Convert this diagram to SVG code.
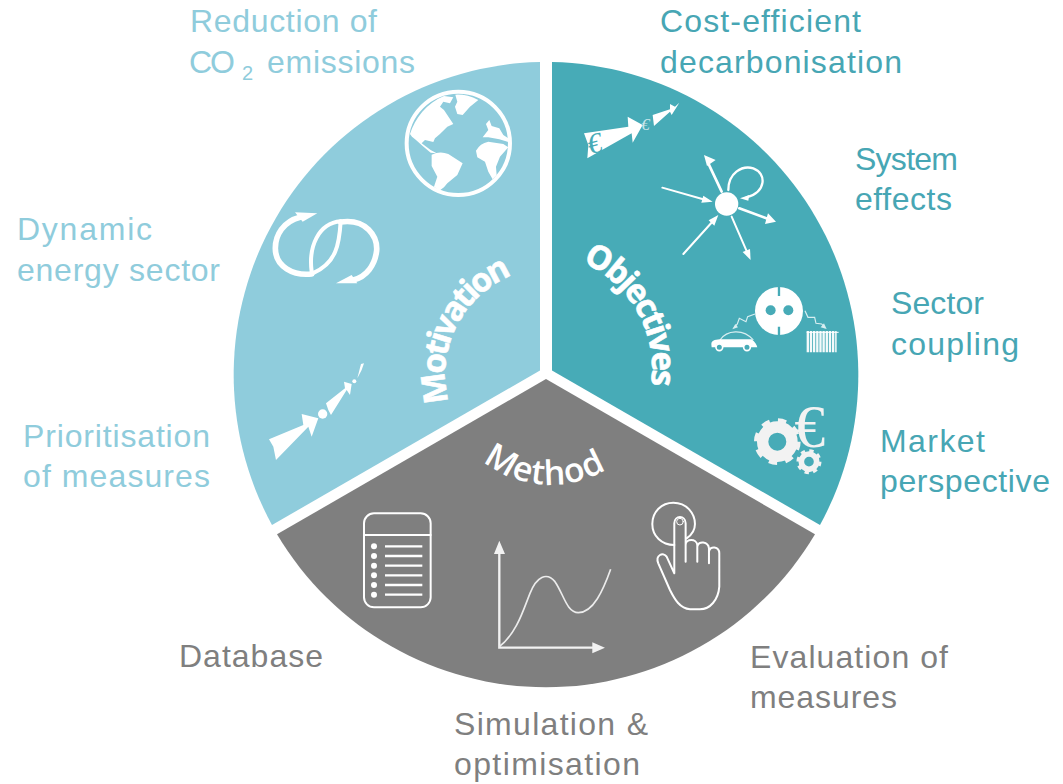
<svg xmlns="http://www.w3.org/2000/svg" width="1063" height="784" viewBox="0 0 1063 784">
<style>
.l{font-family:"Liberation Sans",Arial,sans-serif;font-size:32px}
.lb{fill:#8fccdc}.tl{fill:#47a6b4}.gr{fill:#7f7f7f}
.h{font-family:"Open Sans","Noto Sans",sans-serif;font-weight:700;fill:#fff;stroke:#fff;stroke-width:.6px;font-size:33px}
.w{fill:#fff;stroke:none}
.s{fill:none;stroke:#fff;stroke-linecap:round;stroke-linejoin:round}
.g{fill:none;stroke:#f2f2f2}
</style>
<defs>
<path id="pM" d="M449 402A106 106 0 0 1 550 268"/>
<path id="pO" d="M582 262A116 116 0 0 1 640 420"/>
<path id="pH" d="M483 461A108 108 0 0 0 630 450"/>
</defs>
<g id="segments">
<path id="motivation-slice" fill="#8fccdc" d="M540 62A313 313 0 0 0 272 525L540 370.500Z"/>
<path id="objectives-slice" fill="#47abb7" d="M552 62A313 313 0 0 1 820 525L552 370.500Z"/>
<path id="method-slice" fill="#7f7f7f" d="M546 379L277 534.300A313 313 0 0 0 815 534.300Z"/>
</g>
<g id="heads">
<text class="h" style="letter-spacing:-2.9px"><textPath href="#pM">Motivation</textPath></text>
<text class="h" style="letter-spacing:-2.300px"><textPath href="#pO">Objectives</textPath></text>
<text class="h" style="font-weight:600;stroke-width:0;font-size:34px;letter-spacing:.7px"><textPath href="#pH">Method</textPath></text>
</g>
<g id="icon-globe" transform="translate(240 60) scale(.3333)">
<circle class="s" cx="655" cy="250" r="155" stroke-width="12"/>
<path class="w" d="M510 222C525 175 560 130 612 108L640 112L630 130L610 125L600 140L612 150L640 192L622 200L600 222L585 235L580 246L555 240L545 250L572 270L590 280L572 278L548 258L528 240L516 230Z"/>
<path class="w" d="M646 104Q680 102 715 120L690 140L668 165L652 162L645 140L652 125Z"/>
<path class="w" d="M575 284Q600 272 625 282L668 310L652 345L622 370L612 382L598 392L582 380L592 350L575 318Z"/>
<path class="w" d="M708 272Q720 250 745 245L790 252L805 262L780 290L768 320L770 345L758 358L745 335L735 305L712 292Z"/>
<path class="w" d="M728 232L745 210L738 192L748 180L755 198L778 205L790 225L805 235L805 246L778 238L745 232Z"/>
</g>
<g id="icon-cycle" transform="translate(240 60) scale(.3333)">
<path class="s" stroke-width="17" d="M180 472C130 485 106 525 106 565C106 620 160 648 215 642"/>
<path class="s" stroke-width="17" d="M302 486C380 475 413 530 410 572C405 615 380 650 340 660"/>
<path class="s" stroke-width="12" d="M215 635C205 560 235 490 302 484C298 550 290 610 218 640"/>
<path class="w" d="M165 457L232 460L188 485Z"/>
<path class="w" d="M288 670L352 670L335 645Z"/>
</g>
<g id="icon-rocket" transform="translate(250 240) scale(.3333)">
<path class="w" d="M57 598L160 555L155 522L205 535L185 590L175 560L78 660L70 620Z"/>
<circle class="w" cx="218" cy="522" r="14"/>
<path class="w" d="M228 490L285 445L282 425L305 432L300 465L290 450L243 525L235 510Z"/>
<circle class="w" cx="313" cy="424" r="6"/>
<path class="w" d="M333 372L342 370L335 390L322 415Z"/>
</g>
<g id="icon-euro-arrows" transform="translate(560 80) scale(.3333)">
<path class="w" d="M72 160L205 140L203 110L248 135L218 188L215 160L82 235L85 195Z"/>
<path class="w" d="M278 105L330 88L330 72L345 80L358 68L335 105L330 95L282 138Z"/>
<text x="82" y="217" font-family="Liberation Serif,serif" font-style="italic" font-size="86" fill="#47abb7" transform="rotate(-15 110 190)">€</text>
<text x="244" y="150" font-family="Liberation Serif,serif" font-style="italic" font-size="50" fill="#c7e6ea">€</text>
</g>
<g id="icon-system" transform="translate(560 80) scale(.3333)">
<circle class="w" cx="500" cy="372" r="35"/>
<g class="s" stroke-width="6">
<path d="M307 323L440 361"/><path d="M485 335L445 250" stroke-width="8"/><path d="M538 385L625 417" stroke-width="8"/><path d="M515 410L563 520"/><path d="M370 522L462 420"/>
<path stroke-width="7" d="M505 330C505 280 545 255 580 265C620 280 620 335 560 352"/>
</g>
<path class="w" d="M458 365L424 368L430 347Z"/><path class="w" d="M432 225L467 240L441 258Z"/><path class="w" d="M648 425L615 432L624 400Z"/><path class="w" d="M572 540L548 516L570 507Z"/><path class="w" d="M475 405L463 437L446 421Z"/><path class="w" d="M540 355L568 345L565 362Z"/>
</g>
<g id="icon-coupling" transform="translate(580 240) scale(.3333)">
<circle class="w" cx="597" cy="213" r="72"/>
<path stroke="#47abb7" stroke-width="7" d="M597 140V168M597 260V287"/>
<circle cx="572" cy="211" r="15" fill="#47abb7"/><circle cx="625" cy="211" r="15" fill="#47abb7"/>
<path fill="none" stroke="#d8eef1" stroke-width="3.500" d="M525 222L503 230L498 245L478 235L472 252L462 264"/>
<path fill="none" stroke="#d8eef1" stroke-width="3.500" d="M675 212L684 232L704 232L708 250L725 252L735 264"/>
<path fill="#d8eef1" d="M457 268L466 252L474 262Z"/><path fill="#d8eef1" d="M740 267L722 262L732 250Z"/>
<path fill="none" stroke="#d8eef1" stroke-width="3.500" d="M420 300C440 270 490 265 520 300"/>
<path class="w" d="M394 312C394 300 410 298 425 298L515 298C525 305 530 315 532 322L395 322Z"/>
<circle cx="418" cy="322" r="10" fill="#47abb7" stroke="#fff" stroke-width="5"/><circle cx="501" cy="322" r="10" fill="#47abb7" stroke="#fff" stroke-width="5"/>
<path stroke="#f4fafb" stroke-width="64" stroke-dasharray="7 2.500" d="M680 305H770"/>
<path stroke="#fff" stroke-width="3" d="M680 277H776"/>
</g>
<g id="icon-market" transform="translate(580 240) scale(.3333)">
<circle class="g" cx="592" cy="605" r="44" stroke-width="34"/>
<circle class="g" cx="592" cy="605" r="62" stroke-width="16" stroke-dasharray="24.300 24.400"/>
<circle class="g" cx="687" cy="665" r="23" stroke-width="17"/>
<circle class="g" cx="687" cy="665" r="33" stroke-width="9" stroke-dasharray="13 12.900"/>
<text x="643" y="622" font-family="Liberation Serif,serif" font-size="186" fill="#f2f2f2">€</text>
</g>
<g id="icon-database" transform="translate(340 430) scale(.3333)">
<rect class="s" x="72" y="250" width="200" height="282" rx="30" stroke-width="6"/>
<path class="s" stroke-width="6" d="M72 315H272"/>
<g class="w"><circle cx="102" cy="349" r="9"/><circle cx="102" cy="378" r="9"/><circle cx="102" cy="407" r="9"/><circle cx="102" cy="436" r="9"/><circle cx="102" cy="465" r="9"/><circle cx="102" cy="494" r="9"/></g>
<path stroke="#fff" stroke-width="7" d="M135 349H247M135 378H247M135 407H247M135 436H247M135 465H247M135 494H247"/>
</g>
<g id="icon-chart" transform="translate(340 430) scale(.3333)">
<path fill="none" stroke="#f2f2f2" stroke-width="7" d="M478 360V653H765"/>
<path fill="#f2f2f2" d="M478 332L462 372H495ZM795 653L757 637V670Z"/>
<path fill="none" stroke="#ececec" stroke-width="5" d="M478 650C530 610 550 540 570 490C590 440 620 425 645 455C670 490 680 548 715 548C760 548 790 480 812 418"/>
</g>
<g id="icon-hand" transform="translate(340 430) scale(.3333)">
<path class="s" stroke-width="6" d="M1003 345C965 345 937 318 937 282C937 245 965 218 1000 218C1040 218 1065 250 1065 282C1065 298 1055 315 1040 325"/>
<path class="s" stroke-width="6" d="M1003 430V280C1003 255 1037 255 1037 280V395V345C1037 325 1070 325 1072 345V395V350C1075 330 1105 335 1107 355V400V365C1110 345 1138 350 1138 370V470C1135 510 1110 538 1080 538H1050C1020 535 1005 510 990 480L955 400C945 375 970 365 980 380Z"/>
<circle class="s" cx="1020" cy="275" r="10" stroke-width="3"/>
</g>
<g id="labels">
<text class="l lb" x="190" y="32" textLength="187">Reduction of</text>
<text class="l lb" x="189" y="73" textLength="46">CO</text><text class="l lb" x="242" y="80" style="font-size:20px">2</text><text class="l lb" x="267" y="73" textLength="148">emissions</text>
<text class="l tl" x="660" y="32" textLength="201">Cost-efficient</text>
<text class="l tl" x="660" y="73" textLength="242">decarbonisation</text>
<text class="l tl" x="855" y="170" textLength="103">System</text>
<text class="l tl" x="855" y="210" textLength="97">effects</text>
<text class="l tl" x="891" y="314" textLength="93">Sector</text>
<text class="l tl" x="891" y="355" textLength="128">coupling</text>
<text class="l tl" x="880" y="452" textLength="105">Market</text>
<text class="l tl" x="880" y="492" textLength="170">perspective</text>
<text class="l lb" x="17" y="240" textLength="135">Dynamic</text>
<text class="l lb" x="17" y="281" textLength="203">energy sector</text>
<text class="l lb" x="23" y="447" textLength="187">Prioritisation</text>
<text class="l lb" x="23" y="487" textLength="187">of measures</text>
<text class="l gr" x="179" y="667" textLength="144">Database</text>
<text class="l gr" x="750" y="668" textLength="198">Evaluation of</text>
<text class="l gr" x="750" y="708" textLength="147">measures</text>
<text class="l gr" x="454" y="735" textLength="194">Simulation &amp;</text>
<text class="l gr" x="454" y="775" textLength="186">optimisation</text>
</g>
</svg>
